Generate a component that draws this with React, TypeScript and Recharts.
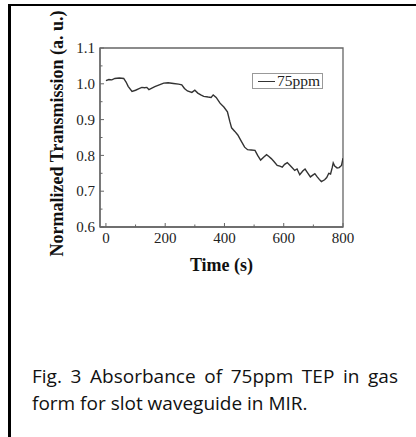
import React from "react";
import {
  LineChart,
  Line,
  XAxis,
  YAxis,
  Legend,
  ReferenceArea,
} from "recharts";

// time (s) and normalized transmission
const times = [
  0, 10, 20, 30, 45, 60, 68, 75, 88, 100, 110, 121, 130, 138, 145, 155, 165,
  180, 195, 210, 228, 245, 256, 265, 275, 290, 300, 310, 320, 330, 345, 355,
  362, 372, 385, 398, 410, 418, 424, 435, 445, 458, 468, 478, 490, 503, 512,
  522, 532, 542, 550, 558, 567, 578, 587, 595, 603, 612, 620, 628, 637, 645,
  654, 665, 672, 680, 690, 698, 705, 713, 720, 727, 738, 745, 752, 758, 764,
  767, 772, 780, 787, 795, 800,
];
const transmission = [
  1.009, 1.012, 1.011, 1.015, 1.016, 1.015, 1.005, 0.993, 0.979, 0.982, 0.986,
  0.99, 0.989, 0.99, 0.984, 0.988, 0.992, 0.997, 1.002, 1.003, 1.001, 0.999,
  0.997, 0.987, 0.98, 0.976, 0.982, 0.974, 0.969, 0.965, 0.963, 0.962, 0.969,
  0.962, 0.946, 0.935, 0.922, 0.895, 0.877, 0.867, 0.857, 0.838, 0.823, 0.816,
  0.815, 0.814, 0.8, 0.787, 0.795, 0.802, 0.797, 0.791, 0.783, 0.772, 0.77,
  0.767, 0.775, 0.78, 0.773, 0.766, 0.758, 0.762, 0.746, 0.757, 0.762, 0.752,
  0.74, 0.745, 0.749, 0.74, 0.733, 0.727, 0.732, 0.738, 0.75, 0.748, 0.767,
  0.779, 0.77, 0.765, 0.766, 0.772, 0.792,
];

const xMajor = [0, 200, 400, 600, 800];
const xMinor = [100, 300, 500, 700];
const yMajor = [0.6, 0.7, 0.8, 0.9, 1.0, 1.1];
const yMinor = [0.65, 0.75, 0.85, 0.95, 1.05];
const seriesName = "75ppm";

const data = times.map((t, i) => ({ time: t, value: transmission[i] }));

const axisColor = "#666";
const serif = "'Liberation Serif', 'Times New Roman', serif";
const GAP = 10;

function XTick(props: any) {
  const { x, y, payload } = props;
  const major = xMajor.includes(payload.value);
  const base = y - GAP;
  return (
    <g>
      <line x1={x} x2={x} y1={base} y2={base - (major ? 4 : 2.5)} stroke={axisColor} />
      {major && (
        <text x={x} y={base + 16} textAnchor="middle" fontFamily={serif} fontSize={15} fill="#222">
          {payload.value}
        </text>
      )}
    </g>
  );
}

function YTick(props: any) {
  const { x, y, payload } = props;
  const major = yMajor.includes(payload.value);
  const base = x + GAP;
  return (
    <g>
      <line x1={base} x2={base + (major ? 4 : 2.5)} y1={y} y2={y} stroke={axisColor} />
      {major && (
        <text x={base - 5} y={y} dy="0.35em" textAnchor="end" fontFamily={serif} fontSize={15} fill="#222">
          {payload.value.toFixed(1)}
        </text>
      )}
    </g>
  );
}

function LegendBox() {
  return (
    <div
      style={{
        display: "flex",
        alignItems: "center",
        height: 16,
        boxSizing: "border-box",
        border: "1px solid #999",
        padding: "0 2px 0 5px",
        background: "#fff",
        fontFamily: serif,
        fontSize: 15.5,
        color: "#222",
      }}
    >
      <span style={{ width: 17, borderTop: "1.3px solid #333", marginRight: 2 }} />
      <span style={{ lineHeight: "14px" }}>{seriesName}</span>
    </div>
  );
}

export default function App() {
  return (
    <div style={{ position: "relative", width: 416, height: 437, background: "#fff", overflow: "hidden" }}>
      <style>{`body{margin:0}`}</style>
      <div style={{ position: "absolute", left: 8, top: 4, right: 0, height: 2, background: "#000" }} />
      <div style={{ position: "absolute", left: 8, top: 4, bottom: 0, width: 3, background: "#000" }} />
      <LineChart
        width={416}
        height={437}
        data={data}
        margin={{ top: 48, right: 73, bottom: 164, left: 60 }}
      >
        <XAxis
          type="number"
          dataKey="time"
          domain={[-20, 800]}
          ticks={[...xMajor, ...xMinor].sort((a, b) => a - b)}
          interval={0}
          allowDataOverflow
          height={30}
          tickSize={0}
          tickMargin={GAP}
          tickLine={false}
          tick={<XTick />}
          axisLine={{ stroke: axisColor, strokeWidth: 1.3 }}
          label={{
            content: (p: any) => {
              const vb = p.viewBox;
              return (
                <text
                  x={vb.x + vb.width / 2}
                  y={vb.y + 44}
                  textAnchor="middle"
                  fontFamily={serif}
                  fontWeight="bold"
                  fontSize={18}
                  fill="#111"
                >
                  Time (s)
                </text>
              );
            },
          }}
        />
        <YAxis
          type="number"
          domain={[0.6, 1.1]}
          ticks={[...yMajor, ...yMinor].sort((a, b) => a - b)}
          interval={0}
          allowDataOverflow
          width={40}
          tickSize={0}
          tickMargin={GAP}
          tickLine={false}
          tick={<YTick />}
          axisLine={{ stroke: axisColor, strokeWidth: 1.3 }}
          label={{
            content: (p: any) => {
              const vb = p.viewBox;
              const cx = vb.x + 3;
              const cy = vb.y + vb.height / 2 - 4;
              return (
                <text
                  x={cx}
                  y={cy}
                  transform={`rotate(-90, ${cx}, ${cy})`}
                  textAnchor="middle"
                  fontFamily={serif}
                  fontWeight="bold"
                  fontSize={18}
                  fill="#111"
                >
                  Normalized Transmission (a. u.)
                </text>
              );
            },
          }}
        />
        <ReferenceArea
          x1={-20}
          x2={800}
          y1={0.6}
          y2={1.1}
          fill="none"
          stroke={axisColor}
          strokeWidth={1.3}
          ifOverflow="visible"
        />
        <Legend
          content={<LegendBox />}
          wrapperStyle={{ left: 252, top: 73, width: "auto", bottom: "auto" }}
        />
        <Line
          type="linear"
          dataKey="value"
          name={seriesName}
          stroke="#333"
          strokeWidth={1.4}
          dot={false}
          isAnimationActive={false}
        />
      </LineChart>
      <div
        style={{
          position: "absolute",
          left: 32,
          top: 363,
          width: 366,
          fontFamily: "'Open Sans', sans-serif",
          fontSize: 19,
          lineHeight: "27px",
          textAlign: "justify",
          color: "#111",
        }}
      >
        Fig. 3 Absorbance of 75ppm TEP in gas form for slot waveguide in MIR.
      </div>
    </div>
  );
}
